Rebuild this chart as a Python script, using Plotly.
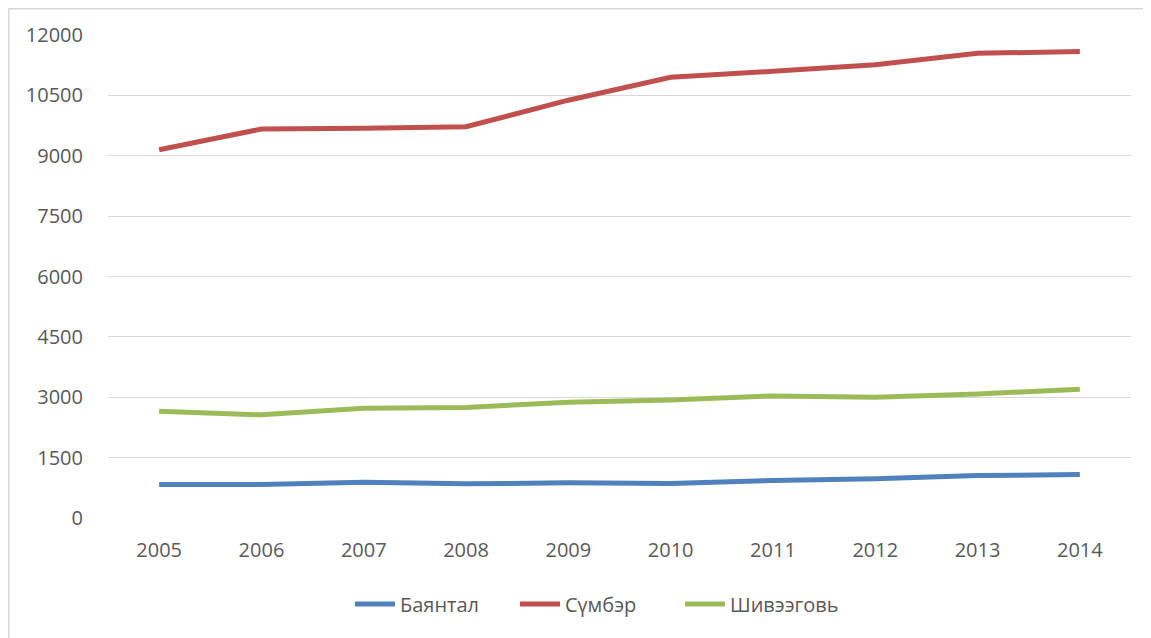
import plotly.graph_objects as go

years = ["2005", "2006", "2007", "2008", "2009", "2010", "2011", "2012", "2013", "2014"]
bayantal = [833, 833, 890, 849, 874, 857, 931, 973, 1055, 1080]
sumber = [9148, 9664, 9685, 9721, 10380, 10951, 11098, 11262, 11545, 11590]
shiveegobi = [2654, 2563, 2728, 2745, 2876, 2934, 3033, 3000, 3082, 3198]
y_ticks = [0, 1500, 3000, 4500, 6000, 7500, 9000, 10500, 12000]

series = [
    ("Баянтал", bayantal, "#4F81BD"),
    ("Сүмбэр", sumber, "#C0504D"),
    ("Шивээговь", shiveegobi, "#9BBB59"),
]

fig = go.Figure()
for name, vals, col in series:
    fig.add_trace(go.Scatter(x=years, y=vals, name=name, mode="lines",
                             line=dict(color=col, width=5)))

OFF = 8  # page offset of the figure
W, H = 1151 - OFF, 638 - OFF
L, R, T, B = 108 - OFF, 20, 35 - OFF, 120
pw, ph = W - L - R, H - T - B

def px_x(p):
    return (p - OFF - L) / pw

def px_y(p):
    return (H - B - (p - OFF)) / ph

fig.update_layout(
    width=W, height=H,
    margin=dict(l=L, r=R, t=T, b=B),
    paper_bgcolor="white", plot_bgcolor="white",
    font=dict(family="Open Sans, Liberation Sans, sans-serif", size=20, color="#595959"),
    showlegend=True,
    legend=dict(orientation="h", x=px_x(350), xanchor="left", y=px_y(604), yanchor="middle",
                font=dict(size=20, color="#595959"), itemwidth=40, tracegroupgap=0,
                entrywidth=110, entrywidthmode="pixels"),
    xaxis=dict(type="category", range=[-0.5, 9.5], showgrid=False, zeroline=False,
               showline=False, ticks="outside", ticklen=14, tickcolor="rgba(0,0,0,0)",
               tickfont=dict(size=20, color="#595959")),
    yaxis=dict(range=[0, 12000], tickvals=y_ticks, ticktext=[str(v) for v in y_ticks],
               showgrid=True, gridcolor="#D9D9D9", gridwidth=1.3, zeroline=False,
               showline=False, ticks="outside", ticklen=20, tickcolor="rgba(0,0,0,0)",
               tickfont=dict(size=20, color="#595959")),
    shapes=[dict(type="rect", xref="paper", yref="paper",
                 x0=px_x(8.8), x1=px_x(1170), y0=px_y(660), y1=px_y(8.8),
                 line=dict(color="#D9D9D9", width=1.5), layer="below")],
)

fig.write_html("out.html")
